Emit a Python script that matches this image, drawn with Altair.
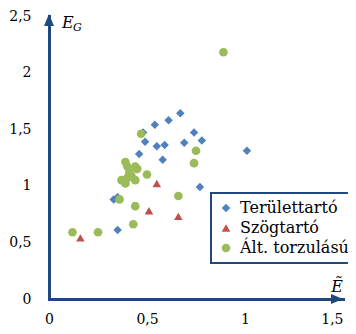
import altair as alt
import pandas as pd

series_names = ["Területtartó", "Szögtartó", "Ált. torzulású"]
series_colors = ["#4F81BD", "#C0504D", "#9BBB59"]
series_shapes = ["diamond", "triangle-up", "circle"]
series_sizes = [72, 75, 46]

terulet_x = [0.67, 0.61, 0.54, 0.74, 0.48, 0.78, 0.49, 0.55, 0.59, 0.69,
             0.46, 0.58, 1.01, 0.77, 0.33, 0.35, 0.35]
terulet_y = [1.64, 1.58, 1.54, 1.47, 1.47, 1.40, 1.39, 1.35, 1.36, 1.38,
             1.28, 1.23, 1.31, 0.99, 0.88, 0.90, 0.61]

szog_x = [0.55, 0.51, 0.66, 0.16]
szog_y = [1.02, 0.78, 0.73, 0.54]

torz_x = [0.89, 0.47, 0.75, 0.74, 0.66, 0.50, 0.44, 0.43, 0.25, 0.12, 0.36,
          0.39, 0.40, 0.44, 0.45, 0.42, 0.40, 0.37, 0.39, 0.44, 0.41]
torz_y = [2.18, 1.46, 1.31, 1.20, 0.91, 1.10, 0.82, 0.66, 0.59, 0.59, 0.88,
          1.21, 1.17, 1.17, 1.15, 1.09, 1.07, 1.05, 1.02, 1.05, 1.12]

x_ticks = [0, 0.5, 1, 1.5]
y_ticks = [0, 0.5, 1, 1.5, 2, 2.5]
x_max = 1.5
y_max = 2.5

rows = []
for name, xs, ys in [(series_names[0], terulet_x, terulet_y),
                     (series_names[1], szog_x, szog_y),
                     (series_names[2], torz_x, torz_y)]:
    for a, b in zip(xs, ys):
        rows.append({"x": a, "y": b, "series": name})
df = pd.DataFrame(rows)

axis_color = "#1F497D"
label_expr = "replace(toString(datum.value), '.', ',')"

xscale = alt.Scale(domain=[0, x_max], nice=False)
yscale = alt.Scale(domain=[0, y_max], nice=False)

x_axis = alt.Axis(values=x_ticks, title=None, grid=False, ticks=False,
                  labelPadding=13, labelExpr=label_expr, domainColor=axis_color,
                  domainWidth=3, domainCap="square", labelFont="DejaVu Serif",
                  labelFontSize=14, labelColor="#000000", labelFlush=False,
                  labelAlign=alt.condition("datum.value == 1.5", alt.value("right"), alt.value("center")))
y_axis = alt.Axis(values=y_ticks, title=None, grid=False, ticks=False,
                  labelPadding=18, labelExpr=label_expr, domainColor=axis_color,
                  domainWidth=3, domainCap="square", labelFont="DejaVu Serif",
                  labelFontSize=14, labelColor="#000000", labelFlush=False)

legend = alt.Legend(title=None, orient="none", legendX=162, legendY=177,
                    padding=7, rowPadding=4, labelFont="DejaVu Serif",
                    labelFontSize=16, labelColor="#000000", symbolSize=40,
                    labelOffset=6, strokeColor=axis_color, fillColor="white")

points = alt.Chart(df).mark_point(filled=True, opacity=1).encode(
    x=alt.X("x:Q", scale=xscale, axis=x_axis),
    y=alt.Y("y:Q", scale=yscale, axis=y_axis),
    color=alt.Color("series:N", scale=alt.Scale(domain=series_names, range=series_colors), legend=legend),
    shape=alt.Shape("series:N", scale=alt.Scale(domain=series_names, range=series_shapes), legend=legend),
    size=alt.Size("series:N", scale=alt.Scale(domain=series_names, range=series_sizes), legend=None),
)

up_df = pd.DataFrame({"x": [0], "y": [y_max]})
right_df = pd.DataFrame({"x": [x_max], "y": [0]})

arrow_up = alt.Chart(up_df).mark_point(
    shape="M0,0 L-1,2.4 L1,2.4 Z", filled=True, opacity=1, color=axis_color,
    size=100, yOffset=-2
).encode(x=alt.X("x:Q", scale=xscale), y=alt.Y("y:Q", scale=yscale))

arrow_right = alt.Chart(right_df).mark_point(
    shape="M0,0 L-2.4,-1 L-2.4,1 Z", filled=True, opacity=1, color=axis_color,
    size=100
).encode(x=alt.X("x:Q", scale=xscale), y=alt.Y("y:Q", scale=yscale))

e_title = alt.Chart(up_df).mark_text(
    text="E", font="DejaVu Serif", fontStyle="italic", fontSize=16,
    align="left", baseline="alphabetic", dx=13, dy=12, color="#000000"
).encode(x=alt.X("x:Q", scale=xscale), y=alt.Y("y:Q", scale=yscale))

g_sub = alt.Chart(up_df).mark_text(
    text="G", font="DejaVu Serif", fontStyle="italic", fontSize=11,
    align="left", baseline="alphabetic", dx=24, dy=15, color="#000000"
).encode(x=alt.X("x:Q", scale=xscale), y=alt.Y("y:Q", scale=yscale))

x_title = alt.Chart(right_df).mark_text(
    text="Ẽ", font="DejaVu Serif", fontStyle="italic", fontSize=16,
    align="right", baseline="alphabetic", dx=0, dy=-7, color="#000000"
).encode(x=alt.X("x:Q", scale=xscale), y=alt.Y("y:Q", scale=yscale))

chart = alt.layer(points, arrow_up, arrow_right, e_title, g_sub, x_title).properties(
    width=294, height=283,
    autosize=alt.AutoSizeParams(type="none"),
    padding={"left": 41, "top": 8, "right": 5, "bottom": 27},
    background="white",
).configure_view(stroke=None).configure_legend(strokeWidth=2)

chart.save("out.html", embed_options={"renderer": "svg", "actions": False})
